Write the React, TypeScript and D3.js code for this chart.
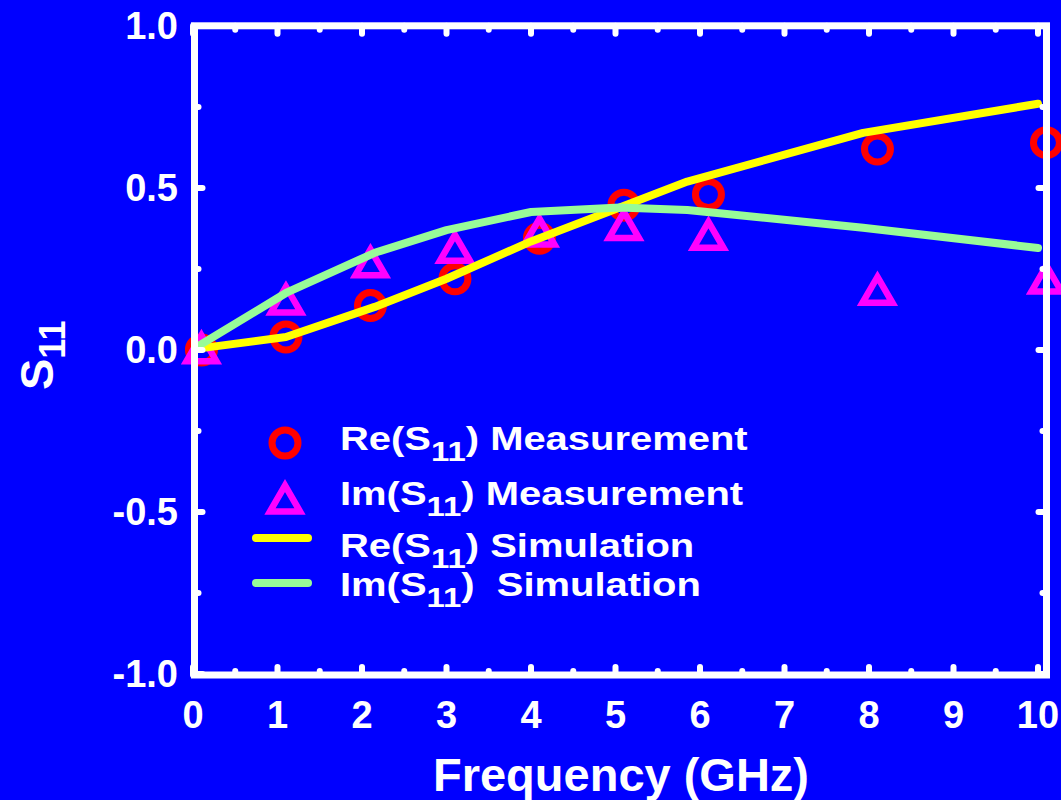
import React from "react";
import * as d3 from "d3";

const W = 1061;
const H = 800;

// Measurement data
const measFreq = [0.1, 1.1, 2.1, 3.1, 4.1, 5.1, 6.1, 8.1, 10.1];
const reMeas = [0.0, 0.04, 0.137, 0.22, 0.345, 0.447, 0.48, 0.62, 0.64];
const imMeas = [0.01, 0.16, 0.275, 0.32, 0.37, 0.39, 0.36, 0.19, 0.225];

// Simulation data
const simFreq = [0.08, 1.1, 2.15, 3.0, 4.0, 5.05, 5.85, 7.93, 10.0];
const reSim = [0.005, 0.04, 0.133, 0.22, 0.335, 0.44, 0.52, 0.67, 0.76];
const imSim = [0.015, 0.176, 0.3, 0.37, 0.426, 0.44, 0.432, 0.377, 0.315];

const xTicks = [0, 1, 2, 3, 4, 5, 6, 7, 8, 9, 10];
const xMinor = [0.5, 1.5, 2.5, 3.5, 4.5, 5.5, 6.5, 7.5, 8.5, 9.5];
const yTicks = [-1.0, -0.5, 0.0, 0.5, 1.0];
const yTickLabels = ["-1.0", "-0.5", "0.0", "0.5", "1.0"];
const yMinor = [-0.75, -0.25, 0.25, 0.75];

const legendItems = [
  { kind: "circle", pre: "Re(S", post: ") Measurement" },
  { kind: "triangle", pre: "Im(S", post: ") Measurement" },
  { kind: "yline", pre: "Re(S", post: ") Simulation" },
  { kind: "gline", pre: "Im(S", post: ")  Simulation" },
];

const BG = "#0000ff";
const RED = "#ff0000";
const MAG = "#ff00ff";
const YEL = "#ffff00";
const GRN = "#98fb98";
const FONT = "'Liberation Sans', Arial, Helvetica, sans-serif";

const triPath = "M0,-11.5 L15,14.4 L-15,14.4 Z";

export default function App() {
  const x = d3.scaleLinear().domain([0, 10]).range([193, 1038]);
  const y = d3.scaleLinear().domain([-1, 1]).range([674, 26]);

  const frame = { l: 194.5, r: 1046.5, t: 25.8, b: 675 };

  const line = d3
    .line<[number, number]>()
    .x((d) => x(d[0]))
    .y((d) => y(d[1]));

  const reSimPts = simFreq.map((f, i) => [f, reSim[i]] as [number, number]);
  const imSimPts = simFreq.map((f, i) => [f, imSim[i]] as [number, number]);

  const legendY = [450, 505, 557, 596];
  const legendMarkY = [443, 497, 538, 583];

  return (
    <svg
      width={W}
      height={H}
      style={{ position: "absolute", left: 0, top: 0, display: "block" }}
    >
      <rect x={0} y={0} width={W} height={H} fill={BG} />

      {/* measurement markers */}
      {measFreq.map((f, i) => (
        <circle
          key={"c" + i}
          cx={x(f)}
          cy={y(reMeas[i])}
          r={13}
          fill="none"
          stroke={RED}
          strokeWidth={7}
        />
      ))}
      {measFreq.map((f, i) => (
        <path
          key={"t" + i}
          d={triPath}
          transform={`translate(${x(f)},${y(imMeas[i])})`}
          fill="none"
          stroke={MAG}
          strokeWidth={6.5}
          strokeLinejoin="miter"
        />
      ))}

      {/* simulation lines */}
      <path
        d={line(reSimPts) || ""}
        fill="none"
        stroke={YEL}
        strokeWidth={8}
        strokeLinecap="round"
        strokeLinejoin="round"
      />
      <path
        d={line(imSimPts) || ""}
        fill="none"
        stroke={GRN}
        strokeWidth={8}
        strokeLinecap="round"
        strokeLinejoin="round"
      />

      {/* frame */}
      <rect
        x={frame.l}
        y={frame.t}
        width={frame.r - frame.l}
        height={frame.b - frame.t}
        fill="none"
        stroke="#ffffff"
        strokeWidth={7}
      />
      {/* x ticks */}
      {xTicks.map((t) => (
        <g key={"xt" + t}>
          <line x1={x(t)} x2={x(t)} y1={frame.b} y2={frame.b - 8} stroke="#fff" strokeWidth={6} strokeLinecap="round" />
          <line x1={x(t)} x2={x(t)} y1={frame.t} y2={frame.t + 8} stroke="#fff" strokeWidth={6} strokeLinecap="round" />
        </g>
      ))}
      {xMinor.map((t) => (
        <g key={"xm" + t}>
          <line x1={x(t)} x2={x(t)} y1={frame.b} y2={frame.b - 4} stroke="#fff" strokeWidth={6} strokeLinecap="round" />
          <line x1={x(t)} x2={x(t)} y1={frame.t} y2={frame.t + 4} stroke="#fff" strokeWidth={6} strokeLinecap="round" />
        </g>
      ))}
      {yTicks.map((t) => (
        <g key={"yt" + t}>
          <line x1={frame.l} x2={frame.l + 8} y1={y(t)} y2={y(t)} stroke="#fff" strokeWidth={6} strokeLinecap="round" />
          <line x1={frame.r} x2={frame.r - 8} y1={y(t)} y2={y(t)} stroke="#fff" strokeWidth={6} strokeLinecap="round" />
        </g>
      ))}
      {yMinor.map((t) => (
        <g key={"ym" + t}>
          <line x1={frame.l} x2={frame.l + 4} y1={y(t)} y2={y(t)} stroke="#fff" strokeWidth={6} strokeLinecap="round" />
          <line x1={frame.r} x2={frame.r - 4} y1={y(t)} y2={y(t)} stroke="#fff" strokeWidth={6} strokeLinecap="round" />
        </g>
      ))}

      {/* tick labels */}
      {xTicks.map((t) => (
        <text
          key={"xl" + t}
          x={x(t)}
          y={728}
          textAnchor="middle"
          fontFamily={FONT}
          fontWeight="bold"
          fontSize={38}
          fill="#fff"
        >
          {String(t)}
        </text>
      ))}
      {yTicks.map((t, i) => (
        <text
          key={"yl" + t}
          x={178}
          y={y(t) + 13}
          textAnchor="end"
          fontFamily={FONT}
          fontWeight="bold"
          fontSize={38}
          fill="#fff"
        >
          {yTickLabels[i]}
        </text>
      ))}

      {/* axis titles */}
      <text
        x={621}
        y={791}
        textAnchor="middle"
        fontFamily={FONT}
        fontWeight="bold"
        fontSize={47}
        fill="#fff"
      >
        Frequency (GHz)
      </text>
      <text
        transform="translate(53,390) rotate(-90)"
        fontFamily={FONT}
        fontWeight="bold"
        fontSize={47}
        fill="#fff"
      >
        S
        <tspan fontSize={36} dy={12}>
          11
        </tspan>
      </text>

      {/* legend */}
      {legendItems.map((it, i) => (
        <g key={"lg" + i}>
          {it.kind === "circle" && (
            <circle cx={285} cy={legendMarkY[i]} r={13} fill="none" stroke={RED} strokeWidth={7} />
          )}
          {it.kind === "triangle" && (
            <path
              d={triPath}
              transform={`translate(285,${legendMarkY[i]})`}
              fill="none"
              stroke={MAG}
              strokeWidth={6.5}
            />
          )}
          {it.kind === "yline" && (
            <line x1={256} x2={308} y1={legendMarkY[i]} y2={legendMarkY[i]} stroke={YEL} strokeWidth={8} strokeLinecap="round" />
          )}
          {it.kind === "gline" && (
            <line x1={256} x2={308} y1={legendMarkY[i]} y2={legendMarkY[i]} stroke={GRN} strokeWidth={8} strokeLinecap="round" />
          )}
          <text
            transform={`translate(340,${legendY[i]}) scale(1.175,1)`}
            fontFamily={FONT}
            fontWeight="bold"
            fontSize={34}
            fill="#fff"
            style={{ whiteSpace: "pre" }}
          >
            {it.pre}
            <tspan fontSize={28} dy={11}>
              11
            </tspan>
            <tspan dy={-11}>{it.post}</tspan>
          </text>
        </g>
      ))}
    </svg>
  );
}
